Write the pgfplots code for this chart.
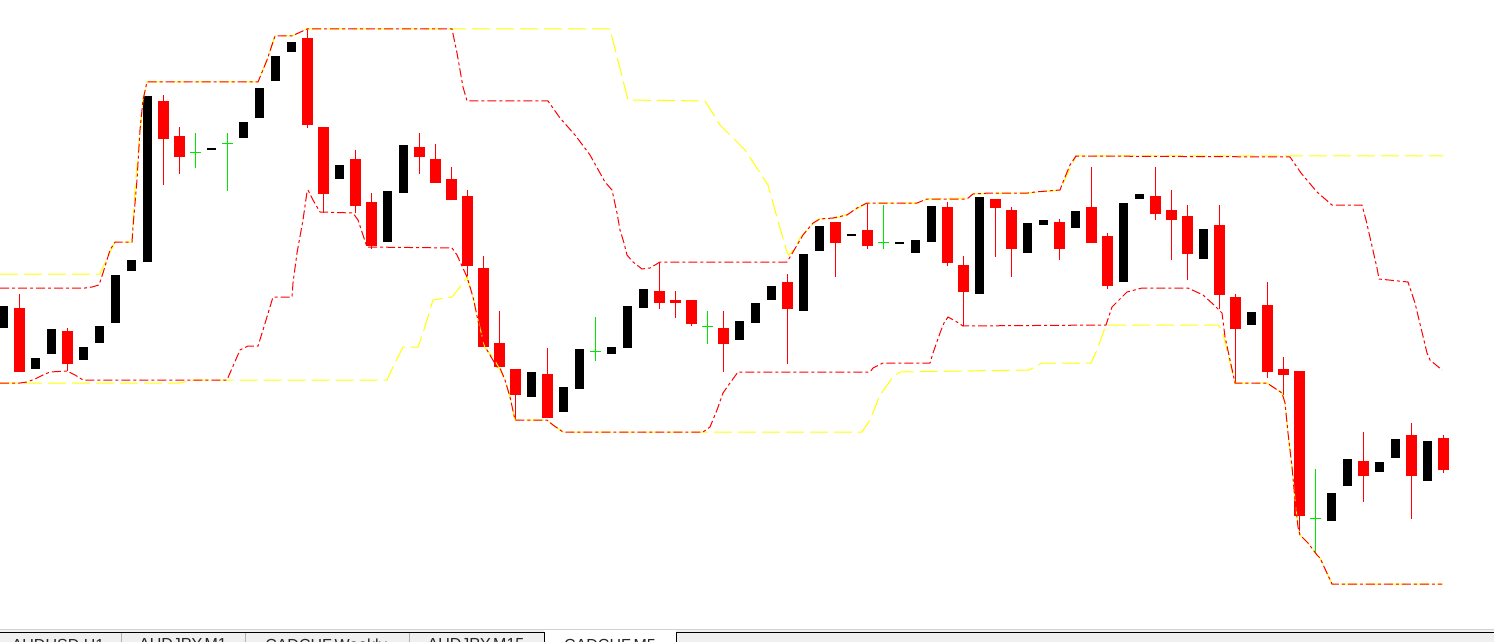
\documentclass[border=0pt]{standalone}
\usepackage{fontspec}
\setmainfont{Liberation Sans}
\usepackage{pgfplots}
\pgfplotsset{compat=1.18}
\usepackage{pgfplotstable}

\definecolor{mtred}{RGB}{255,0,0}
\definecolor{mtyellow}{RGB}{255,255,0}
\definecolor{mtgreen}{RGB}{0,230,0}
\definecolor{tabgray}{RGB}{240,240,240}

% candle index i sits at pixel x = 3.5 + 16(i-1); prices are screen rows (top = 0)
\pgfplotstableread{
i top bot
1 306 328
3 358 369
4 329 354
6 347 360
7 326 343
8 275 323
9 260 271
10 96 262
14 148 150
16 122 138
17 88 118
18 56 81
19 42 52
22 165 179
25 191 242
26 145 193
34 372 397
36 387 412
37 349 389
39 347 354
40 306 348
41 289 308
47 321 340
48 303 323
49 286 300
51 254 311
52 226 251
54 234 236
57 242 244
58 240 253
59 206 242
62 197 294
65 223 253
66 220 225
68 211 228
71 203 282
72 194 199
76 229 259
79 312 325
84 493 521
85 459 486
87 462 472
88 439 458
90 441 481
}\bull

\pgfplotstableread{
i top bot high low
2 308 372 294 372
5 331 364 328 371
11 101 139 95 185
12 136 157 127 174
20 38 125 29 128
21 127 194 127 213
23 159 206 150 213
24 202 246 193 249
27 147 157 133 174
28 159 183 144 183
29 179 200 167 200
30 196 266 190 276
31 268 347 256 347
32 343 367 311 367
33 369 395 369 420
35 374 418 348 418
42 291 303 262 309
43 300 303 291 318
44 300 324 300 326
46 328 344 311 372
50 282 309 274 364
53 222 243 222 277
55 230 246 203 249
60 207 263 202 266
61 265 292 256 326
63 199 208 199 257
64 210 249 207 277
67 222 249 219 260
69 207 243 167 243
70 236 286 233 289
73 196 214 167 220
74 210 220 190 260
75 216 254 205 280
77 225 295 205 309
78 297 329 294 383
80 305 372 282 378
81 369 375 357 395
82 371 516 371 532
86 461 476 432 502
89 435 476 423 519
91 438 470 435 473
}\bear

\pgfplotstableread{
i y high low
13 153 133 168
15 144 133 191
38 351 317 361
45 326 311 344
56 242 205 249
83 518 469 553
}\doji

\begin{document}
\begin{tikzpicture}
\begin{axis}[
    width=747pt, height=321pt, scale only axis,
    xmin=0, xmax=1494, ymin=0, ymax=642, y dir=reverse,
    hide axis,
    redline/.style={mtred, line width=0.5pt, dash pattern=on 4.5pt off 1.5pt on 1.5pt off 1.5pt},
    yelline/.style={mtyellow, line width=0.5pt, dash pattern=on 9pt off 3pt},
  ]
  \fill[white] (rel axis cs:0,0) rectangle (rel axis cs:1,1);
  \coordinate (sw) at (rel axis cs:0,0);
  \coordinate (ne) at (rel axis cs:1,1);

  % bear wicks
  \addplot[draw=none, mark=none, error bars/.cd, y dir=both, y explicit, error mark=none,
    error bar style={draw=mtred, line width=0.5pt, line cap=butt}]
    table[x expr=3.5+16*(\thisrow{i}-1), y expr=(\thisrow{high}+\thisrow{low})/2,
      y error expr=(\thisrow{low}-\thisrow{high})/2] {\bear};
  % bear bodies
  \addplot[draw=none, mark=none, error bars/.cd, y dir=both, y explicit, error mark=none,
    error bar style={draw=mtred, line width=5.5pt, line cap=butt}]
    table[x expr=3.5+16*(\thisrow{i}-1), y expr=(\thisrow{top}+\thisrow{bot})/2,
      y error expr=(\thisrow{bot}-\thisrow{top})/2] {\bear};
  % bull bodies
  \addplot[draw=none, mark=none, error bars/.cd, y dir=both, y explicit, error mark=none,
    error bar style={draw=black, line width=4.5pt, line cap=butt}]
    table[x expr=3.5+16*(\thisrow{i}-1), y expr=(\thisrow{top}+\thisrow{bot})/2,
      y error expr=(\thisrow{bot}-\thisrow{top})/2] {\bull};
  % doji crosses
  \addplot[draw=none, mark=none, error bars/.cd, y dir=both, y explicit, error mark=none,
    error bar style={draw=mtgreen, line width=0.5pt, line cap=butt}]
    table[x expr=3.5+16*(\thisrow{i}-1), y expr=(\thisrow{high}+\thisrow{low})/2,
      y error expr=(\thisrow{low}-\thisrow{high})/2] {\doji};
  \addplot[draw=none, mark=none, error bars/.cd, x dir=both, x explicit, error mark=none,
    error bar style={draw=mtgreen, line width=0.5pt, line cap=butt}]
    table[x expr=3.5+16*(\thisrow{i}-1), y=y, x error expr=5.5] {\doji};

  % long channel (yellow)
  \addplot[yelline] coordinates {(0,274) (100,274) (103,267) (115,242) (132,242) (135,187) (143,100) (147,82) (258,82) (267,60) (275,36) (292,36) (307,29) (610,29) (628,100) (705,101) (720,125) (745,150) (768,185) (773,203) (780,228) (787,252) (789,255) (795,248) (800,238) (807,230) (818,219) (837,218) (850,213) (867,203) (920,203) (927,199) (967,198) (973,194) (1028,193) (1060,190) (1076,156) (1443,156)};
  \addplot[yelline] coordinates {(0,383) (180,383) (193,380) (387,380) (393,367) (403,347) (418,347) (423,333) (433,300) (452,297) (460,287) (467,277) (473,297) (478,320) (485,348) (493,357) (500,370) (505,380) (510,397) (515,420) (547,420) (553,425) (563,432) (862,432) (870,420) (880,395) (893,377) (900,372) (1029,370) (1042,363) (1091,363) (1097,350) (1106,325) (1218,325) (1222,330) (1231,367) (1235,383) (1267,383) (1273,387) (1282,393) (1285,403) (1288,433) (1292,467) (1295,500) (1298,527) (1300,535) (1308,543) (1317,555) (1320,558) (1332,584) (1443,584)};

  % short channel (red)
  \addplot[redline] coordinates {(0,288) (85,288) (92,287) (99,285) (103,273) (110,250) (115,242) (132,242) (133,227) (137,180) (140,130) (143,100) (147,82) (258,82) (267,60) (275,36) (292,36) (307,29) (452,29) (457,53) (463,87) (467,101) (548,101) (560,118) (575,135) (590,155) (605,182) (612,190) (617,213) (620,230) (624,243) (627,255) (633,262) (642,269) (650,268) (660,262) (787,262) (793,252) (803,235) (813,223) (820,219) (833,218) (847,215) (857,208) (867,203) (917,203) (927,199) (967,199) (973,194) (990,193) (1028,193) (1035,192) (1060,190) (1063,182) (1070,165) (1076,156) (1290,157) (1301,173) (1317,192) (1332,205) (1362,205) (1366,220) (1377,268) (1379,279) (1408,282) (1415,303) (1427,353) (1430,360) (1442,370)};
  \addplot[redline] coordinates {(0,383) (20,383) (27,382) (35,379) (43,375) (50,372) (67,371) (75,375) (83,380) (227,380) (230,373) (240,350) (248,346) (258,346) (263,330) (273,297) (292,297) (293,283) (297,253) (303,220) (307,192) (308,190) (313,200) (320,212) (353,213) (358,220) (367,247) (452,248) (457,255) (467,277) (473,297) (480,330) (487,350) (497,367) (500,368) (505,380) (510,397) (515,420) (547,420) (553,425) (563,432) (703,432) (710,427) (717,410) (723,393) (730,383) (738,372) (870,372) (873,368) (883,363) (930,363) (933,353) (940,333) (944,323) (948,317) (957,322) (963,326) (1106,325) (1112,307) (1127,292) (1142,288) (1188,288) (1203,295) (1214,305) (1222,313) (1225,337) (1230,360) (1235,383) (1267,383) (1273,387) (1282,393) (1285,403) (1288,433) (1292,467) (1295,500) (1298,527) (1300,535) (1308,543) (1317,555) (1320,558) (1332,584) (1442,584)};

  % tab bar
  \fill[tabgray] (axis cs:0,629.5) rectangle (axis cs:1494,642);
  \draw[gray!35, line width=0.5pt] (axis cs:0,629.5) -- (axis cs:1494,629.5);
  \fill[white] (axis cs:544,630) rectangle (axis cs:676,642);
  \draw[black, line width=0.5pt] (axis cs:0,632) -- (axis cs:544,632) -- (axis cs:544,642)
    (axis cs:676,642) -- (axis cs:676,632) -- (axis cs:1494,632);
  \draw[gray!60, line width=0.5pt] (axis cs:121,633) -- (axis cs:121,642)
    (axis cs:245,633) -- (axis cs:245,642) (axis cs:409,633) -- (axis cs:409,642);
  \begin{scope}[every node/.style={anchor=north, inner sep=0pt, font=\fontsize{8}{9}\selectfont, text=black!85}]
    \node at (axis cs:58,638.5) {AUDUSD,H1};
    \node at (axis cs:183,638.5) {AUDJPY,M1};
    \node at (axis cs:326,638.5) {CADCHF,Weekly};
    \node at (axis cs:476,638.5) {AUDJPY,M15};
    \node at (axis cs:610,638.5) {CADCHF,M5};
  \end{scope}
\end{axis}
\pgfresetboundingbox
\useasboundingbox (sw) rectangle (ne);
\end{tikzpicture}
\end{document}
